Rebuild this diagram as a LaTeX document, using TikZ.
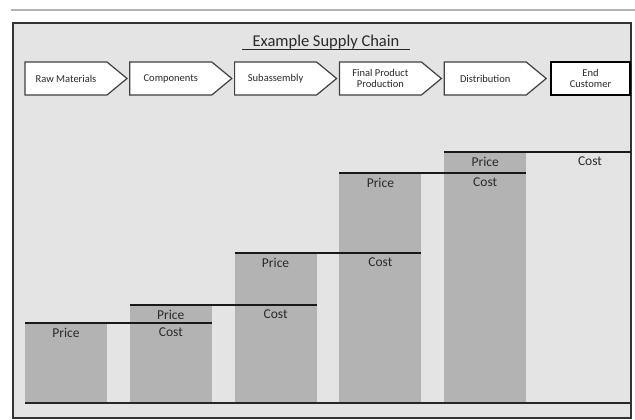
\documentclass[tikz,border=0pt]{standalone}
\usepackage{fontspec}
\setmainfont{Carlito}
\usetikzlibrary{calc}

\definecolor{panelgray}{HTML}{E4E4E4}
\definecolor{bargray}{HTML}{B3B3B3}
\definecolor{inkgray}{HTML}{2A2A2A}

\begin{document}
\begin{tikzpicture}[x=1pt, y=-1pt,
    stage/.style={align=center, inner sep=0pt, text=inkgray, font=\fontsize{10.5}{11.5}\selectfont},
    chevron/.style={draw=black!75, fill=white, line width=1.2pt, line join=miter},
    amount/.style={text=inkgray, font=\fontsize{13.5}{14}\selectfont},
    level/.style={draw=black!90, line width=1.2pt}]
  \useasboundingbox (0,0) rectangle (635,420);

  % rule above and panel
  \draw[black!30, line width=2pt] (11,10) -- (635,10);
  \draw[fill=panelgray, draw=black!80, line width=1.6pt] (13,23) rectangle (631,418);

  % title
  \node[anchor=base, text=inkgray, font=\fontsize{16.5}{18}\selectfont] (title) at (326,47) {Example Supply Chain};
  \draw[black!85, line width=1pt] ([xshift=-7pt, yshift=-2.5pt]title.base west) -- ([xshift=7pt, yshift=-2.5pt]title.base east);

  % stages
  \foreach \lbl [count=\i] in {Raw Materials, Components, Subassembly, {Final Product\\Production}, Distribution} {
    \pgfmathsetmacro\xc{66+104.8*(\i-1)}
    \draw[chevron] (\xc-41,62) -- (\xc+41,62) -- (\xc+61,78.5) -- (\xc+41,95) -- (\xc-41,95) -- cycle;
    \node[stage] (s\i) at (\xc,78.5) {\lbl};
  }
  \node[draw=black, fill=white, line width=1.6pt, minimum width=79pt, minimum height=33pt, stage] (cust) at (590.5,78.5) {End\\Customer};

  % bars
  \foreach \h [count=\i] in {323,305,253,173,152} {
    \pgfmathsetmacro\xl{25+104.8*(\i-1)}
    \fill[bargray] (\xl,\h) rectangle (\xl+82,403);
  }
  % price and cost levels
  \foreach \h [count=\i] in {323,305,253,173,152} {
    \pgfmathsetmacro\xl{25+104.8*(\i-1)}
    \draw[level] (\xl,\h) -- (\xl+186.8,\h);
    \node[amount] (price\i) at (\xl+41,\h+9.5) {Price};
    \node[amount] (cost\i) at (\xl+145.8,\h+9.5) {Cost};
  }
  \draw[black!85, line width=1.5pt] (25,403) -- (630,403);
\end{tikzpicture}
\end{document}
